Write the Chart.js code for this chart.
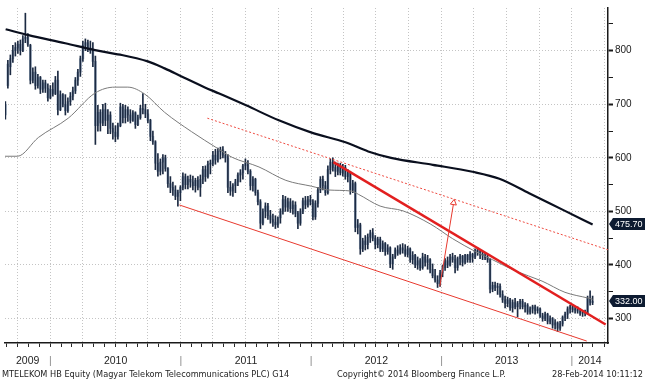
<!DOCTYPE html>
<html><head><meta charset="utf-8">
<script src="https://cdn.jsdelivr.net/npm/chart.js@4.4.1/dist/chart.umd.min.js"></script>
<style>
html,body{margin:0;padding:0;background:#fff;}
#wrap{position:relative;width:645px;height:380px;overflow:hidden;background:#fff;}
canvas{position:absolute;left:0;top:0;}
.ft{position:absolute;top:369px;font-family:"DejaVu Sans",sans-serif;font-size:8.2px;color:#1e1e1e;white-space:nowrap;line-height:10px;}
</style></head><body>
<div id="wrap"><canvas id="c" width="645" height="380"></canvas>
<div class="ft" style="left:2px">MTELEKOM HB Equity (Magyar Telekom Telecommunications PLC) G14</div>
<div class="ft" style="left:337px">Copyright© 2014 Bloomberg Finance L.P.</div>
<div class="ft" style="right:2px">28-Feb-2014 10:11:12</div>
</div>
<script>
// ---- data (weekly bars, first week ending 28-Aug-2009, last 28-Feb-2014) ----
const firstWeek = Date.UTC(2009, 7, 28);
const opens = [
680,735,770,785,800,805,812,800,822,825,
810,745,760,735,750,728,740,730,712,728,
720,745,690,718,700,688,705,715,725,745,
760,785,810,815,805,800,780,660,685,665,
690,670,680,655,648,640,660,695,675,690,
680,670,684,662,675,692,690,682,670,640,
630,590,575,592,600,580,552,545,540,528,
535,545,565,550,560,555,548,558,545,560,
578,565,588,590,605,596,612,615,605,600,
545,538,548,555,568,572,585,590,575,548,
560,535,518,478,500,510,492,485,480,475,
488,500,522,508,518,505,512,496,478,500,
520,512,522,518,490,515,540,560,548,535,
578,592,582,575,585,572,582,565,572,540,
552,470,475,430,445,438,452,460,450,438,
448,430,440,425,432,402,415,428,422,432,
428,420,430,410,418,400,408,395,415,405,
410,392,380,372,365,385,395,408,400,415,
410,395,412,416,405,418,410,420,415,428,
425,420,418,414,410,355,362,358,360,345,
335,328,335,320,330,322,328,332,322,325,
312,318,322,315,318,305,300,308,295,300,
288,292,282,290,302,308,318,322,316,318,
314,310,312,310,338,330];
const highs = [
705,782,792,810,815,818,820,828,870,832,
812,768,770,756,752,745,745,738,735,740,
752,762,725,720,718,712,722,732,750,765,
790,818,822,820,818,815,790,698,690,700,
702,690,686,665,660,665,702,700,698,695,
690,688,686,680,698,720,700,690,672,650,
632,608,598,606,605,582,565,555,548,540,
548,572,570,566,568,566,562,565,568,584,
585,594,596,612,616,618,620,621,612,606,
556,552,560,572,578,588,598,595,578,565,
562,540,522,505,516,515,502,495,492,490,
505,530,528,525,524,520,518,500,505,525,
528,528,530,522,520,545,565,566,556,585,
598,600,592,590,590,588,586,578,575,558,
555,485,478,450,455,458,465,468,455,452,
452,445,442,438,434,420,432,436,438,440,
438,435,432,425,420,415,412,422,420,418,
412,402,392,380,390,400,412,415,420,422,
418,415,420,418,420,420,425,422,430,432,
428,425,422,418,412,368,368,366,365,352,
342,340,338,335,338,332,336,336,330,328,
322,325,325,322,320,310,312,310,305,302,
298,294,295,305,312,322,325,326,322,322,
318,315,316,342,352,342];
const lows = [
672,730,755,778,790,795,792,798,815,808,
738,740,728,730,720,722,722,706,710,715,
718,680,688,695,680,685,698,708,720,735,
752,780,800,798,795,770,625,650,650,660,
660,645,645,635,630,635,658,665,665,668,
665,668,655,660,672,682,675,665,632,625,
578,566,568,570,575,545,535,530,522,510,
520,540,542,542,545,540,536,540,528,552,
556,562,570,585,588,592,598,600,592,535,
530,528,535,548,555,560,578,570,540,538,
530,512,468,475,488,485,478,472,468,470,
478,495,500,500,498,495,490,468,474,496,
505,508,512,484,485,508,535,540,530,532,
570,575,565,568,568,566,560,555,532,535,
462,458,420,425,428,430,442,445,430,432,
425,425,418,420,395,392,412,418,420,422,
416,415,405,402,395,392,390,392,398,392,
385,376,368,358,360,378,390,395,398,405,
385,390,400,398,402,405,405,405,412,418,
412,410,410,405,348,350,352,345,340,330,
320,322,315,312,318,303,318,318,312,308,
308,310,308,310,302,295,296,290,290,282,
280,276,278,286,296,300,310,312,310,310,
306,304,305,308,325,326];
const closes = [
700,775,785,800,806,812,800,822,825,812,
745,760,735,750,728,740,730,712,728,720,
745,690,718,700,688,705,715,725,745,760,
785,810,815,805,800,780,660,685,665,690,
670,680,655,648,640,660,695,675,690,680,
670,684,662,675,692,690,682,670,640,630,
590,575,592,600,580,552,545,540,528,535,
545,565,550,560,555,548,558,545,560,578,
565,588,590,605,596,612,615,605,600,545,
538,548,555,568,572,585,590,575,548,560,
535,518,478,500,510,492,485,480,475,488,
500,522,508,518,505,512,496,478,500,520,
512,522,518,490,515,540,560,548,535,578,
592,582,575,585,572,582,565,572,540,552,
470,475,430,445,438,452,460,450,438,448,
430,440,425,432,402,415,428,422,432,428,
420,430,410,418,400,408,395,415,405,410,
392,380,372,365,385,395,408,400,415,410,
395,412,416,405,418,410,420,415,428,425,
420,418,414,410,355,362,358,360,345,335,
328,335,320,330,322,328,332,322,325,312,
318,322,315,318,305,300,308,295,300,288,
292,282,290,302,308,318,322,316,318,314,
310,312,310,338,330,332];

// moving averages (decimal year, price)
const maLongX = [2009.657,2009.832,2010.114,2010.343,2010.495,2010.548,2010.747,2010.876,2011.006,2011.181,2011.295,2011.501,2011.752,2012.004,2012.263,2012.438,2012.613,2012.933,2013.238,2013.444,2013.672,2013.947,2014.159];
const maLongY = [840,829,814,801,794,792,780,767,752,732,720,698,670,647,629,612,600,587,574,561,534,501,475.7];
const maShortX = [2009.652,2009.748,2009.908,2010.137,2010.343,2010.495,2010.594,2010.724,2010.876,2011.082,2011.280,2011.394,2011.600,2011.806,2012.004,2012.133,2012.308,2012.362,2012.529,2012.705,2012.918,2013.086,2013.261,2013.390,2013.566,2013.771,2013.947,2014.129,2014.159];
const maShortY = [603,603,638,674,721,732,732,719,685,649,618,601,583,558,547,540,538,532,510,501,476,449,425,410,389,370,349,338,336];

// trend lines drawn on the chart (decimal year, price)
const lowerChannelX = [2010.990, 2014.114];   const lowerChannelY = [512, 258];
const downTrendX    = [2012.171, 2014.259];   const downTrendY    = [592, 289];
const upperChannelX = [2011.204, 2014.282];   const upperChannelY = [674, 428];
const arrowX        = [2012.987, 2013.093];   const arrowY        = [360, 516];

const yearLabels = ['2009','2010','2011','2012','2013','2014'];
const priceTicks = [300,350,400,450,500,550,600,650,700,750,800,850];

// ---- axis ranges ----
const X_MIN = 2009.652, X_MAX = 2014.277;
const Y_MIN = 254.4, Y_MAX = 879.7;

function decYear(ms){ const y=new Date(ms).getUTCFullYear(); const a=Date.UTC(y,0,1), b=Date.UTC(y+1,0,1); return y+(ms-a)/(b-a); }
const weekX = opens.map((_, i) => decYear(firstWeek + i*7*86400000));

const monthTicks = [], quarterTicks = [];
for (let y=2009; y<=2014; y++) for (let m=0; m<12; m++) {
  const v = decYear(Date.UTC(y,m,1));
  if (v >= X_MIN && v <= X_MAX) { monthTicks.push(v); if (m%3===0) quarterTicks.push(v); }
}
const yearTickVals = [], yearTickText = [];
yearLabels.forEach((lab, k) => {
  const Y = +lab;
  if (k > 0) { yearTickVals.push(Y); yearTickText.push('|'); }
  const a = Math.max(Y, X_MIN), b = Math.min(Y+1, X_MAX);
  yearTickVals.push((a+b)/2); yearTickText.push(lab);
});
const pts = (xs, ys) => xs.map((x, i) => ({x, y: ys[i]}));

const valueTags = {
  id: 'valueTags',
  afterDraw(chart) {
    const {ctx, chartArea} = chart; const ys = chart.scales.y;
    const tags = [maLongY[maLongY.length-1], closes[closes.length-1]];
    ctx.save();
    tags.forEach(v => {
      const py = Math.round(ys.getPixelForValue(v));
      const x0 = chartArea.right + 1, x1 = chart.width;
      ctx.fillStyle = '#0d1b31';
      ctx.beginPath();
      ctx.moveTo(x0, py); ctx.lineTo(x0+4, py-6); ctx.lineTo(x1, py-6); ctx.lineTo(x1, py+6); ctx.lineTo(x0+4, py+6);
      ctx.closePath(); ctx.fill();
      ctx.fillStyle = '#ffffff'; ctx.font = '9px "Liberation Sans"'; ctx.textBaseline = 'middle'; ctx.textAlign = 'left';
      ctx.fillText(v.toFixed(2), x0 + 6, py + 0.5);
    });
    ctx.restore();
  }
};

new Chart(document.getElementById('c'), {
  type: 'bar',
  data: { datasets: [
    { type:'line', label:'Arrow', data: pts(arrowX, arrowY), borderColor:'#e8392e', borderWidth:1,
      pointRadius:[0,3.5], pointStyle:'triangle', rotation:[0,9], pointBorderColor:'#e8392e', pointBackgroundColor:'#ffffff', pointBorderWidth:1, order:1 },
    { type:'line', label:'Down trend', data: pts(downTrendX, downTrendY), borderColor:'#e21f1f', borderWidth:2.5, pointRadius:0, order:2 },
    { type:'line', label:'Lower channel', data: pts(lowerChannelX, lowerChannelY), borderColor:'#e8392e', borderWidth:1, pointRadius:0, order:3 },
    { type:'line', label:'Upper channel', data: pts(upperChannelX, upperChannelY), borderColor:'#ee4a40', borderWidth:1, borderDash:[2,2], pointRadius:0, order:4 },
    { type:'line', label:'Long MA', data: pts(maLongX, maLongY), borderColor:'#0a0f1e', borderWidth:2.2, pointRadius:0, cubicInterpolationMode:'monotone', order:5 },
    { type:'line', label:'Short MA', data: pts(maShortX, maShortY), borderColor:'#7a7a7a', borderWidth:1, pointRadius:0, cubicInterpolationMode:'monotone', order:6 },
    { type:'bar', label:'High-Low', data: weekX.map((x,i)=>({x, y:[lows[i], highs[i]]})), backgroundColor:'#1c2a42', barThickness:1, grouped:false, order:19 },
    { type:'bar', label:'Open-Close', data: weekX.map((x,i)=>({x, y:[opens[i], closes[i]]})), backgroundColor:'#9aabc1', barThickness:2, grouped:false, order:20 }
  ]},
  options: {
    responsive:false, animation:false, events:[],
    layout:{ padding:0 },
    plugins:{ legend:{display:false}, tooltip:{enabled:false} },
    scales: {
      x: { type:'linear', position:'bottom', min:X_MIN, max:X_MAX, offset:false, weight:0,
           afterBuildTicks: s => { s.ticks = quarterTicks.map(v => ({value:v})); },
           afterFit: s => { s.height = 0; },
           ticks:{ display:false },
           grid:{ color:'#c4c4c4', lineWidth:1, drawTicks:false, offset:false, borderDash:[1,2] },
           border:{ display:false, dash:[1,2] } },
      xm: { type:'linear', position:'bottom', min:X_MIN, max:X_MAX, offset:false, weight:1,
           afterBuildTicks: s => { s.ticks = monthTicks.map(v => ({value:v})); },
           afterFit: s => { s.height = 4; },
           ticks:{ display:false },
           grid:{ drawOnChartArea:false, drawTicks:true, tickLength:4, color:'#2a2a2a', tickColor:'#2a2a2a', offset:false },
           border:{ display:true, color:'#1a1a1a', width:1.5 } },
      xy: { type:'linear', position:'bottom', min:X_MIN, max:X_MAX, offset:false, weight:2,
           afterBuildTicks: s => { s.ticks = yearTickVals.map(v => ({value:v})); },
           afterFit: s => { s.height = 33; },
           grid:{ display:false, drawTicks:false }, border:{ display:false },
           ticks:{ autoSkip:false, maxRotation:0, minRotation:0, padding:8,
                   font:{ family:'Liberation Sans', size:10.5 },
                   color: c => yearTickText[c.index] === '|' ? '#8a8a8a' : '#1e1e1e',
                   callback: (v, i) => yearTickText[i] } },
      y: { type:'linear', position:'right', min:Y_MIN, max:Y_MAX,
           afterBuildTicks: s => { s.ticks = priceTicks.map(v => ({value:v})); },
           afterFit: s => { s.width = 37; },
           ticks:{ autoSkip:false, padding:2, font:{ family:'Liberation Sans', size:10 }, color:'#1a1a1a',
                   callback: v => (v % 100 === 0 ? String(v) : '') },
           grid:{ color: c => (c.tick && c.tick.value % 100 === 0) ? '#c4c4c4' : 'rgba(0,0,0,0)',
                  tickColor:'#1a1a1a', tickLength:5, tickWidth: c => (c.tick && c.tick.value % 100 === 0) ? 2 : 1, borderDash:[1,2] },
           border:{ display:true, color:'#1a1a1a', width:1.5, dash:[1,2] } }
    }
  },
  plugins:[valueTags]
});
</script>
</body></html>
